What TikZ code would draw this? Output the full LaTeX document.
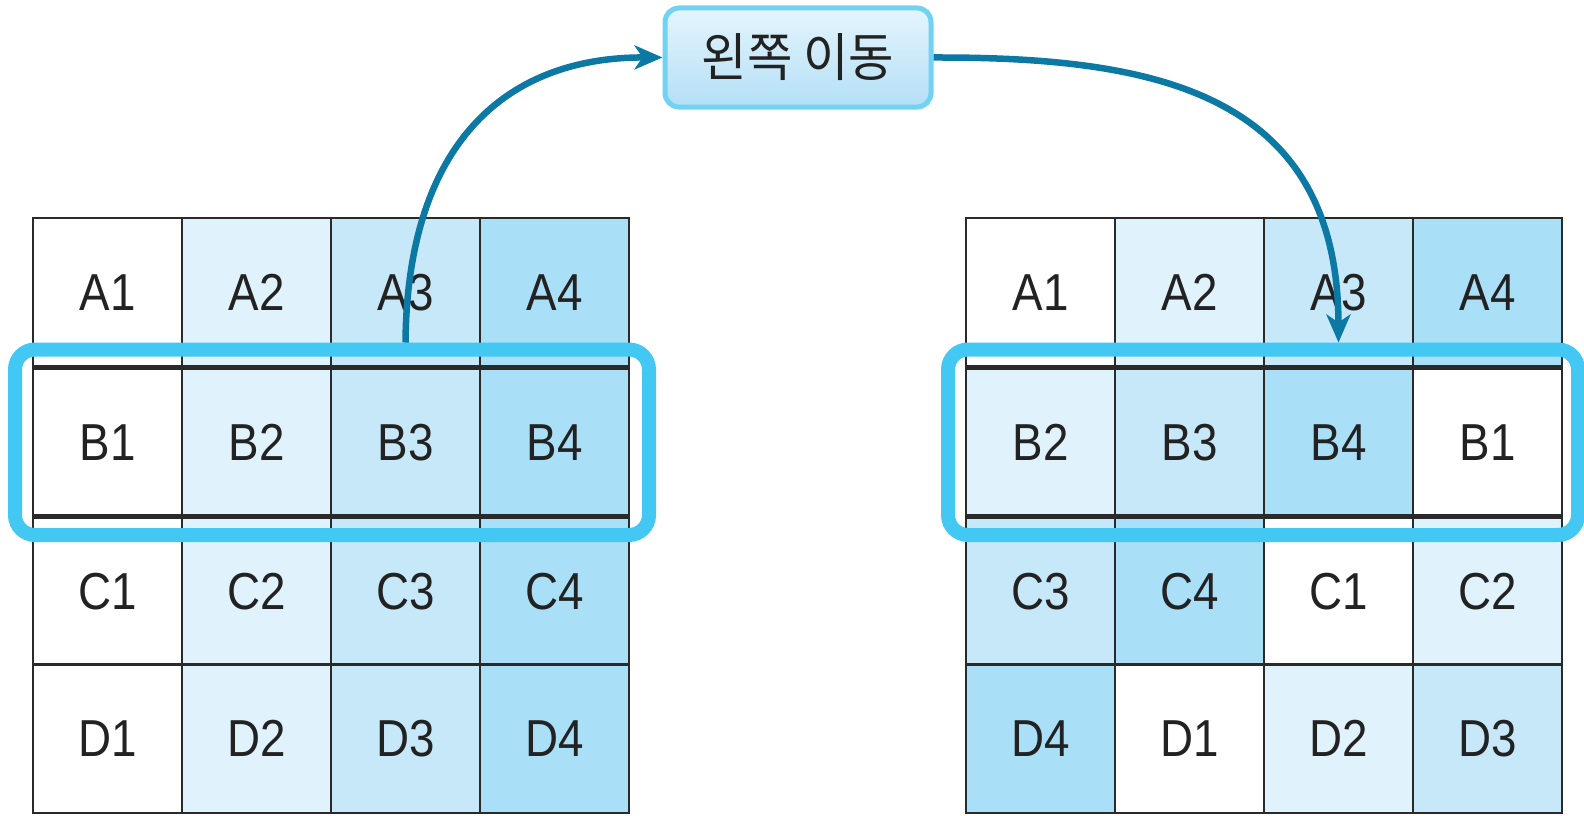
\documentclass[tikz,border=0pt]{standalone}
\usepackage{fontspec}
\usetikzlibrary{arrows.meta}
\newfontfamily\cellfont[FakeStretch=0.88]{Liberation Sans}
\newfontfamily\krfont[FakeStretch=0.95]{Noto Sans CJK KR}
\definecolor{col1}{HTML}{FFFFFF}
\definecolor{col2}{HTML}{E0F2FC}
\definecolor{col3}{HTML}{C6E8F8}
\definecolor{col4}{HTML}{AADFF8}
\definecolor{hlcyan}{HTML}{42C8F2}
\definecolor{arrowblue}{HTML}{0C78A4}
\definecolor{boxedge}{HTML}{72D2F4}
\definecolor{boxtop}{HTML}{E4F5FD}
\definecolor{boxbot}{HTML}{B4DFF6}
\definecolor{gridline}{HTML}{2A2A2A}
\definecolor{txt}{HTML}{222222}
\tikzset{
  cell/.style={draw=gridline, line width=2.8pt, inner sep=0pt, minimum width=149pt,
    text=txt, font=\cellfont\fontsize{52}{52}\selectfont},
  hlbox/.style={draw=hlcyan, line width=14pt, rounded corners=20pt, inner sep=0pt,
    minimum height=185.5pt},
  movebox/.style={draw=boxedge, line width=5pt, rounded corners=14pt, top color=boxtop,
    bottom color=boxbot, minimum width=266pt, minimum height=99pt, inner sep=0pt,
    text=txt, font=\krfont\fontsize{52}{52}\selectfont},
  movearrow/.style={draw=arrowblue, line width=6.5pt, -{Stealth[length=28pt,width=24pt,inset=8pt]}}
}
\begin{document}
\begin{tikzpicture}[x=1pt,y=-1pt]
\useasboundingbox (0,0) rectangle (1584,816);
% left grid
\foreach \r/\y/\h in {A/292.25/148.5, B/442.25/146.5, C/591.25/146.5, D/738.75/148.5}{
  \foreach \c in {1,...,4}{
    \node[cell, fill=col\c, minimum height=\h pt] (L\r\c) at ({33+74.5+149*(\c-1)}, \y) {\r\c};
  }
}
% right grid
\foreach \r/\y/\h/\lst in {A/292.25/148.5/{1,2,3,4}, B/442.25/146.5/{2,3,4,1}, C/591.25/146.5/{3,4,1,2}, D/738.75/148.5/{4,1,2,3}}{
  \foreach \k [count=\c] in \lst{
    \node[cell, fill=col\k, minimum height=\h pt] (R\r\c) at ({966+74.5+149*(\c-1)}, \y) {\r\k};
  }
}
% highlight frames
\node[hlbox, minimum width=634pt] (hlL) at (332,442.25) {};
\node[hlbox, minimum width=630pt] (hlR) at (1263,442.25) {};
% label
\node[movebox] (move) at (798,57.5) {왼쪽 이동};
% arrows
\draw[movearrow] (hlL.north -| LB3.center) .. controls (407,150) and (500,57) .. (move.west);
\draw[movearrow] (move.east) .. controls (1150,57) and (1338,90) .. (hlR.north -| RB3.center);
\end{tikzpicture}
\end{document}
